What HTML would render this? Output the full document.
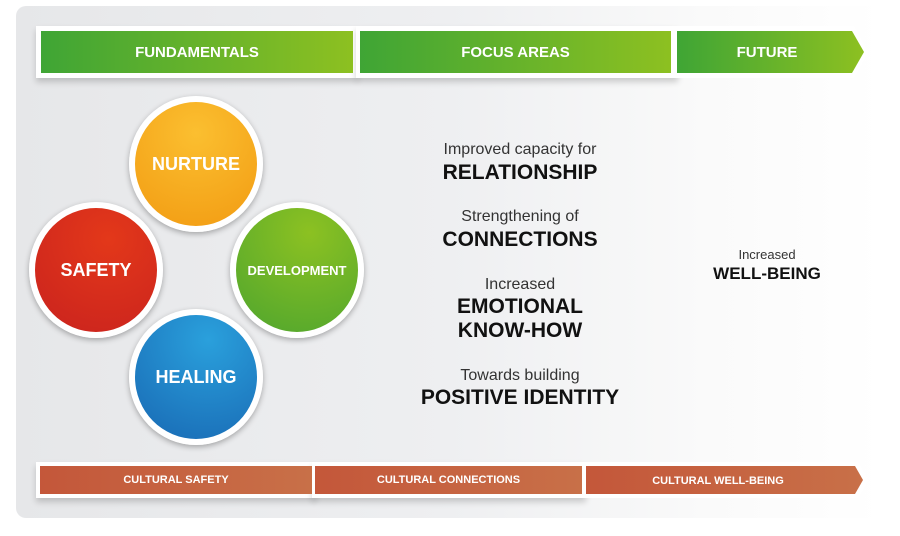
<!DOCTYPE html>
<html><head><meta charset="utf-8"><style>
body{margin:0;width:900px;height:536px;background:#fff;position:relative;overflow:hidden;font-family:"Liberation Sans",sans-serif}
.panel{position:absolute;left:16px;top:6px;width:866px;height:512px;border-radius:10px;background:linear-gradient(90deg,#e6e7e9 0%,#eeeff1 50%,#fafafa 80%,#fff 100%)}
.band{position:absolute;background:#fff;box-shadow:0 4px 6px rgba(0,0,0,.18)}
.g{position:absolute;background:linear-gradient(90deg,#3fa535,#8dc021);color:#fff;font-weight:bold;font-size:15px;display:flex;align-items:center;justify-content:center}
.o{position:absolute;background:linear-gradient(90deg,#c4573a,#c87048);color:#fff;font-weight:bold;font-size:11px;display:flex;align-items:center;justify-content:center}
.c{position:absolute;width:122px;height:124px;border:6px solid #fff;border-radius:50%;box-shadow:0 2px 6px rgba(0,0,0,.3);color:#fff;font-weight:bold;display:flex;align-items:center;justify-content:center;font-size:18px}
.t{position:absolute;width:300px;text-align:center;color:#222;left:370px}
.s{font-size:16px;color:#333}
.b{font-size:21px;font-weight:bold;color:#111}
</style></head><body>
<div class="panel"></div>
<div class="band" style="left:36px;top:26px;width:322px;height:52px"></div>
<div class="band" style="left:356px;top:26px;width:322px;height:52px"></div>
<svg style="position:absolute;left:674px;top:26px" width="200" height="56"><polygon points="0,0 180,0 194,26 180,52 0,52" fill="#fff"/><defs><linearGradient id="gg"><stop offset="0" stop-color="#3fa535"/><stop offset="1" stop-color="#8dc021"/></linearGradient><linearGradient id="og"><stop offset="0" stop-color="#c4573a"/><stop offset="1" stop-color="#c87048"/></linearGradient></defs><polygon points="3,5 178,5 190,26 178,47 3,47" fill="url(#gg)"/><text x="93" y="31" fill="#fff" font-family="Liberation Sans" font-weight="bold" font-size="15" text-anchor="middle">FUTURE</text></svg>
<div class="g" style="left:41px;top:31px;width:312px;height:42px">FUNDAMENTALS</div>
<div class="g" style="left:360px;top:31px;width:311px;height:42px">FOCUS AREAS</div>

<div class="c" style="left:129px;top:96px;background:radial-gradient(circle at 50% 25%,#fbbf30,#f29b12)">NURTURE</div>
<div class="c" style="left:29px;top:202px;background:radial-gradient(circle at 60% 25%,#e3381a,#c9221e)">SAFETY</div>
<div class="c" style="left:230px;top:202px;background:radial-gradient(circle at 60% 20%,#8cc122,#4ea52e);font-size:13px">DEVELOPMENT</div>
<div class="c" style="left:129px;top:309px;background:radial-gradient(circle at 60% 20%,#2aa0dc,#1868b3)">HEALING</div>

<div class="t s" style="top:141px">Improved capacity for</div>
<div class="t b" style="top:161px">RELATIONSHIP</div>
<div class="t s" style="top:208px">Strengthening of</div>
<div class="t b" style="top:228px">CONNECTIONS</div>
<div class="t s" style="top:276px">Increased</div>
<div class="t b" style="top:295px">EMOTIONAL</div>
<div class="t b" style="top:319px">KNOW-HOW</div>
<div class="t s" style="top:367px">Towards building</div>
<div class="t b" style="top:386px">POSITIVE IDENTITY</div>
<div class="t" style="left:667px;width:200px;top:247px;font-size:13px;color:#333">Increased</div>
<div class="t" style="left:667px;width:200px;top:264px;font-size:17px;font-weight:bold;color:#111">WELL-BEING</div>

<div class="band" style="left:36px;top:462px;width:280px;height:36px"></div>
<div class="band" style="left:312px;top:462px;width:274px;height:36px"></div>
<svg style="position:absolute;left:582px;top:462px" width="290" height="40"><polygon points="0,0 276,0 286,18 276,36 0,36" fill="#fff"/><polygon points="4,4 273,4 281,18 273,32 4,32" fill="url(#og)"/><text x="136" y="22" fill="#fff" font-family="Liberation Sans" font-weight="bold" font-size="11" text-anchor="middle">CULTURAL WELL-BEING</text></svg>
<div class="o" style="left:40px;top:466px;width:272px;height:28px">CULTURAL SAFETY</div>
<div class="o" style="left:315px;top:466px;width:267px;height:28px">CULTURAL CONNECTIONS</div>
</body></html>
